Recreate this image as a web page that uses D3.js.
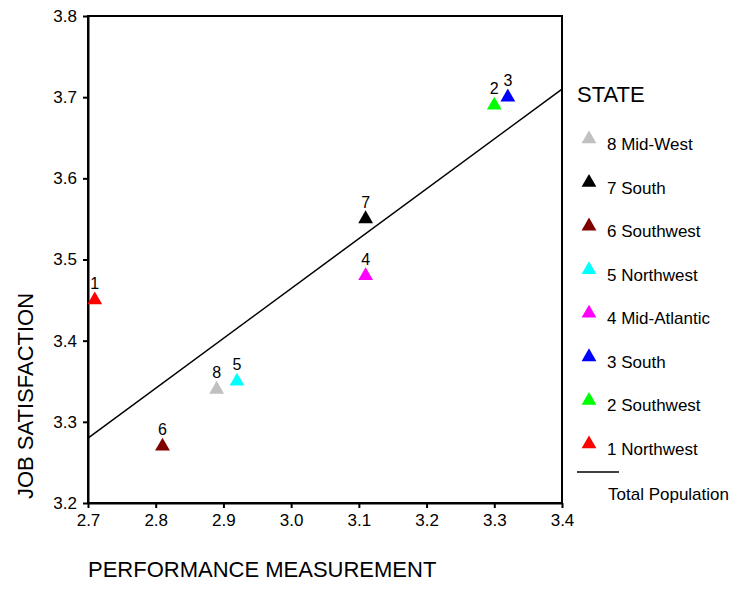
<!DOCTYPE html>
<html lang="en">
<head>
  <meta charset="UTF-8" />
  <title>Job Satisfaction vs Performance</title>
  <style>
    body { margin: 0; background: #fff; font-family: 'Liberation Sans', Arial, sans-serif; }
    .axis path, .axis line { stroke: #000; stroke-width: 2px; }
    .axis text { font-size: 17px; fill: #000; font-family: 'Liberation Sans', Arial, sans-serif; }
  </style>
</head>
<body>
  <svg id="chart"></svg>
  <script src="https://d3js.org/d3.v7.min.js"></script>
  <script>
    // state groups, ordered 1..8
    const ids = [1, 2, 3, 4, 5, 6, 7, 8];
    const names = ["Northwest", "Southwest", "South", "Mid-Atlantic", "Northwest", "Southwest", "South", "Mid-West"];
    const perf = [2.71, 3.30, 3.32, 3.11, 2.92, 2.81, 3.11, 2.89];
    const satis = [3.45, 3.69, 3.70, 3.48, 3.35, 3.27, 3.55, 3.34];
    const colors = ["#ff0000", "#00ff00", "#0000ff", "#ff00ff", "#00ffff", "#800000", "#000000", "#c0c0c0"];

    // total population fit line
    const fitX = [2.7, 3.4];
    const fitY = [3.28, 3.71];

    const xTicks = [2.7, 2.8, 2.9, 3.0, 3.1, 3.2, 3.3, 3.4];
    const yTicks = [3.2, 3.3, 3.4, 3.5, 3.6, 3.7, 3.8];

    const width = 737, height = 589;
    const m = { left: 88, top: 16, right: 562, bottom: 503 };

    const svg = d3.select("#chart").attr("width", width).attr("height", height);

    const x = d3.scaleLinear().domain([2.7, 3.4]).range([m.left, m.right]);
    const y = d3.scaleLinear().domain([3.2, 3.8]).range([m.bottom, m.top]);

    // frame
    svg.append("rect")
      .attr("x", m.left).attr("y", m.top)
      .attr("width", m.right - m.left).attr("height", m.bottom - m.top)
      .attr("fill", "none").attr("stroke", "#000").attr("stroke-width", 2);

    svg.append("g").attr("class", "axis")
      .attr("transform", `translate(0,${m.bottom})`)
      .call(d3.axisBottom(x).tickValues(xTicks).tickFormat(d3.format(".1f")).tickSize(5).tickSizeOuter(0).tickPadding(6));

    svg.append("g").attr("class", "axis")
      .attr("transform", `translate(${m.left},0)`)
      .call(d3.axisLeft(y).tickValues(yTicks).tickFormat(d3.format(".1f")).tickSize(5).tickSizeOuter(0).tickPadding(6));

    // regression line
    svg.append("line")
      .attr("x1", x(fitX[0])).attr("y1", y(fitY[0]))
      .attr("x2", x(fitX[1])).attr("y2", y(fitY[1]))
      .attr("stroke", "#000").attr("stroke-width", 1.5);

    const tri = d3.symbol().type(d3.symbolTriangle).size(95);

    const pts = ids.map((id, i) => ({ id, x: perf[i], y: satis[i], c: colors[i] }));

    const g = svg.append("g").selectAll("g").data(pts).join("g")
      .attr("transform", d => `translate(${x(d.x)},${y(d.y)})`);
    g.append("path").attr("d", tri).attr("fill", d => d.c);
    g.append("text")
      .attr("y", -11)
      .attr("text-anchor", "middle")
      .attr("font-size", 16)
      .text(d => d.id);

    // axis titles
    svg.append("text")
      .attr("x", m.left).attr("y", 577)
      .attr("font-size", 22)
      .text("PERFORMANCE MEASUREMENT");

    svg.append("text")
      .attr("transform", "translate(33,396) rotate(-90)")
      .attr("text-anchor", "middle")
      .attr("font-size", 22)
      .text("JOB SATISFACTION");

    // legend
    const lg = svg.append("g");
    lg.append("text").attr("x", 577).attr("y", 102).attr("font-size", 22).text("STATE");

    const order = ids.slice().reverse();
    const ly = d3.scalePoint().domain(order).range([150, 455]);

    const items = lg.selectAll("g.item").data(order).join("g")
      .attr("class", "item")
      .attr("transform", d => `translate(589,${ly(d)})`);
    items.append("path").attr("d", tri).attr("fill", d => colors[d - 1]).attr("transform", "translate(0,-11)");
    items.append("text")
      .attr("x", 18)
      .attr("font-size", 17)
      .text(d => `${d} ${names[d - 1]}`);

    lg.append("line")
      .attr("x1", 577).attr("x2", 619)
      .attr("y1", 472).attr("y2", 472)
      .attr("stroke", "#000").attr("stroke-width", 1.5);
    lg.append("text").attr("x", 608).attr("y", 500).attr("font-size", 17).text("Total Population");
  </script>
</body>
</html>
